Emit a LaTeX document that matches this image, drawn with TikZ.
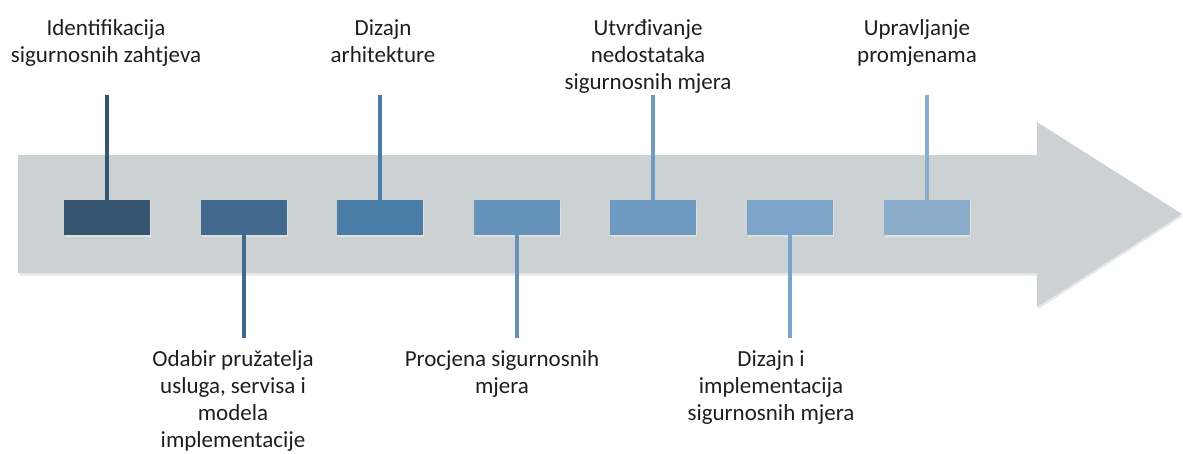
\documentclass[tikz,border=0pt]{standalone}
\usepackage{fontspec}
\setmainfont{Carlito}
\definecolor{band}{HTML}{CCD1D3}
\definecolor{bandshadow}{HTML}{E6E8E9}
\definecolor{txt}{HTML}{1E1E1E}
\definecolor{c1}{HTML}{35546F}
\definecolor{c2}{HTML}{416A8E}
\definecolor{c3}{HTML}{4B7DA9}
\definecolor{c4}{HTML}{6592BA}
\definecolor{c5}{HTML}{6E9AC1}
\definecolor{c6}{HTML}{7BA4C8}
\definecolor{c7}{HTML}{8AADCC}
\tikzset{
  stepbox/.style={rectangle, minimum width=86pt, minimum height=35pt, inner sep=0pt, draw=none},
  stem/.style={line width=4pt},
  lbl/.style={anchor=north, inner sep=0pt, align=center, text=txt,
    font=\fontsize{23}{27}\selectfont},
}
\begin{document}
\begin{tikzpicture}[x=1pt,y=-1pt]
\useasboundingbox (0,0) rectangle (1183,453);
% shadow of the band
\fill[bandshadow] (19.5,157) -- (1038.5,157) -- (1038.5,124) -- (1183,216) -- (1038.5,309) -- (1038.5,275.5) -- (19.5,275.5) -- cycle;
% timeline arrow band
\fill[band] (18,155) -- (1037,155) -- (1037,122) -- (1182,214) -- (1037,307) -- (1037,273) -- (18,273) -- cycle;
% boxes
\foreach \i/\x in {1/107,2/243.6,3/380.2,4/516.8,5/653.4,6/790,7/926.6}{
  \fill[black!12] (\x-42,200.5) rectangle (\x+44,237);
  \node[stepbox, fill=c\i] (b\i) at (\x,217.5) {};
}
% stem ends
\coordinate (t1) at (107,95);
\coordinate (t3) at (380.2,95);
\coordinate (t5) at (653.4,95);
\coordinate (t7) at (926.6,95);
\coordinate (d2) at (243.6,338);
\coordinate (d4) at (516.8,338);
\coordinate (d6) at (790,338);
% stems
\draw[stem, c1] (b1.north) -- (t1);
\draw[stem, c3] (b3.north) -- (t3);
\draw[stem, c5] (b5.north) -- (t5);
\draw[stem, c7] (b7.north) -- (t7);
\draw[stem, c2] (b2.south) -- (d2);
\draw[stem, c4] (b4.south) -- (d4);
\draw[stem, c6] (b6.south) -- (d6);
% labels
\node[lbl] (l1) at (106,16) {\strut Identifikacija\\sigurnosnih zahtjeva};
\node[lbl] (l3) at (383,16) {\strut Dizajn\\arhitekture};
\node[lbl] (l5) at (648,16) {\strut Utvrđivanje\\nedostataka\\sigurnosnih mjera};
\node[lbl] (l7) at (917,16) {\strut Upravljanje\\promjenama};
\node[lbl] (l2) at (233,347.5) {\strut Odabir pružatelja\\usluga, servisa i\\modela\\implementacije};
\node[lbl] (l4) at (502,347.5) {\strut Procjena sigurnosnih\\mjera};
\node[lbl] (l6) at (771,347.5) {\strut Dizajn i\\implementacija\\sigurnosnih mjera};
\end{tikzpicture}
\end{document}
